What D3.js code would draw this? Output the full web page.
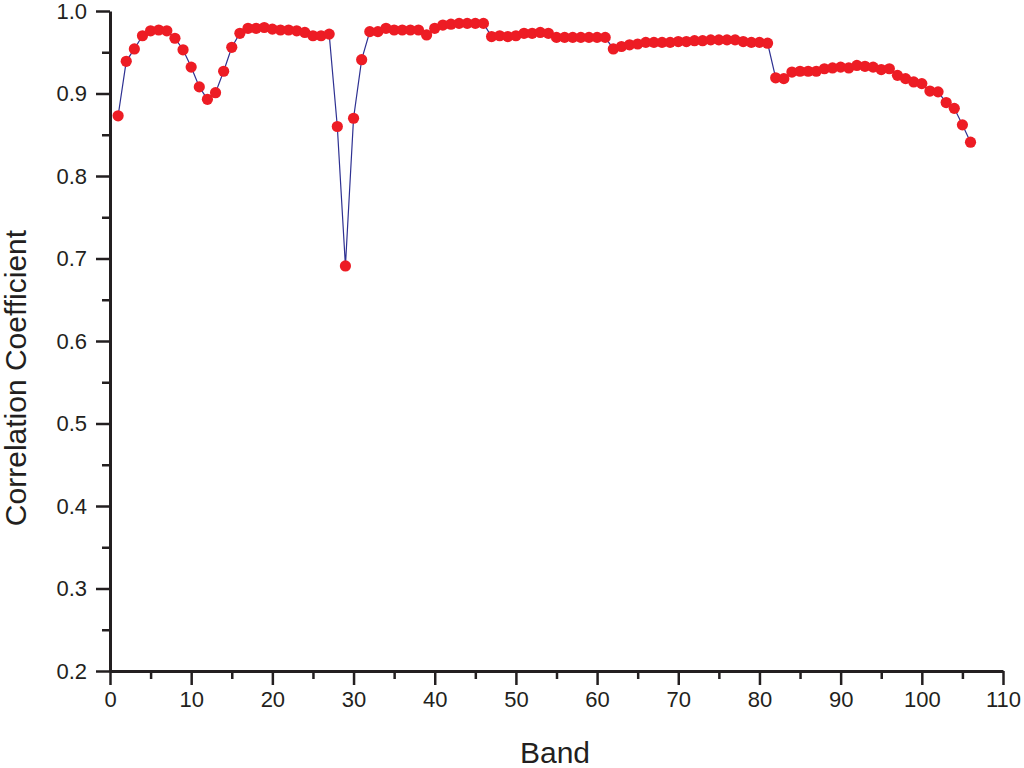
<!DOCTYPE html>
<html><head><meta charset="utf-8">
<script src="https://cdn.jsdelivr.net/npm/d3@7"></script>
<style>body{margin:0;background:#fff;} svg{display:block;}</style>
</head><body>
<svg id="c" width="1024" height="768"></svg>
<script>
const bands = d3.range(1, 107);
const corr = [
0.873,0.939,0.954,0.970,0.976,0.977,0.976,0.967,0.953,0.932,
0.908,0.893,0.901,0.927,0.956,0.973,0.979,0.979,0.980,0.978,
0.977,0.977,0.976,0.974,0.970,0.970,0.972,0.860,0.691,0.870,
0.941,0.975,0.975,0.979,0.977,0.977,0.977,0.977,0.971,0.979,
0.983,0.984,0.985,0.985,0.985,0.985,0.969,0.970,0.969,0.970,
0.973,0.973,0.974,0.973,0.968,0.968,0.968,0.968,0.968,0.968,
0.968,0.954,0.957,0.959,0.960,0.962,0.962,0.962,0.962,0.963,
0.963,0.964,0.964,0.965,0.965,0.965,0.965,0.963,0.962,0.962,
0.961,0.919,0.918,0.926,0.927,0.927,0.927,0.930,0.931,0.932,
0.931,0.934,0.933,0.932,0.929,0.930,0.922,0.918,0.914,0.912,
0.903,0.902,0.889,0.882,0.862,0.841];
const xTicks = d3.range(0, 111, 10);
const yTicks = d3.range(2, 11).map(d => d / 10);
const xTitle = "Band", yTitle = "Correlation Coefficient";

const svg = d3.select("#c");
const x = d3.scaleLinear().domain([0, 110]).range([110, 1003]);
const y = d3.scaleLinear().domain([0.2, 1.0]).range([671, 11]);
const axisColor = "#231f20";
const font = "'Liberation Sans', Arial, sans-serif";

// minor ticks
const xMinor = d3.range(5, 110, 10);
const yMinor = d3.range(0.25, 1.0, 0.1);
svg.append("g").attr("transform", "translate(0,671)")
  .call(d3.axisBottom(x).tickValues(xMinor).tickSize(8).tickFormat(""))
  .call(g => g.select(".domain").remove())
  .selectAll("line").attr("stroke", axisColor).attr("stroke-width", 2.5);
svg.append("g").attr("transform", "translate(110,0)")
  .call(d3.axisLeft(y).tickValues(yMinor).tickSize(8).tickFormat(""))
  .call(g => g.select(".domain").remove())
  .selectAll("line").attr("stroke", axisColor).attr("stroke-width", 2.5);

// major axes
const gx = svg.append("g").attr("transform", "translate(0,671)")
  .call(d3.axisBottom(x).tickValues(xTicks).tickSize(14).tickSizeOuter(0).tickPadding(6).tickFormat(d3.format("d")));
const gy = svg.append("g").attr("transform", "translate(110,0)")
  .call(d3.axisLeft(y).tickValues(yTicks).tickSize(14).tickSizeOuter(0).tickPadding(9).tickFormat(d3.format(".1f")));
[gx, gy].forEach(g => {
  g.select(".domain").attr("stroke", axisColor).attr("stroke-width", 3);
  g.selectAll(".tick line").attr("stroke", axisColor).attr("stroke-width", 2.5);
  g.selectAll(".tick text").attr("fill", axisColor).style("font-family", font).style("font-size", "22px");
});

// line
svg.append("path")
  .datum(bands.map((b, i) => [b, corr[i]]))
  .attr("fill", "none").attr("stroke", "#2e3192").attr("stroke-width", 1.2)
  .attr("d", d3.line().x(d => x(d[0])).y(d => y(d[1])));

// points
svg.append("g").selectAll("circle")
  .data(bands.map((b, i) => [b, corr[i]]))
  .join("circle")
  .attr("cx", d => x(d[0])).attr("cy", d => y(d[1])).attr("r", 5.6)
  .attr("fill", "#ed1c24");

// titles
svg.append("text").attr("x", 555).attr("y", 763).attr("text-anchor", "middle")
  .attr("fill", axisColor).style("font-family", font).style("font-size", "30px").text(xTitle);
svg.append("text").attr("transform", "translate(26,378) rotate(-90)").attr("text-anchor", "middle")
  .attr("fill", axisColor).style("font-family", font).style("font-size", "30px").text(yTitle);
</script>
</body></html>
